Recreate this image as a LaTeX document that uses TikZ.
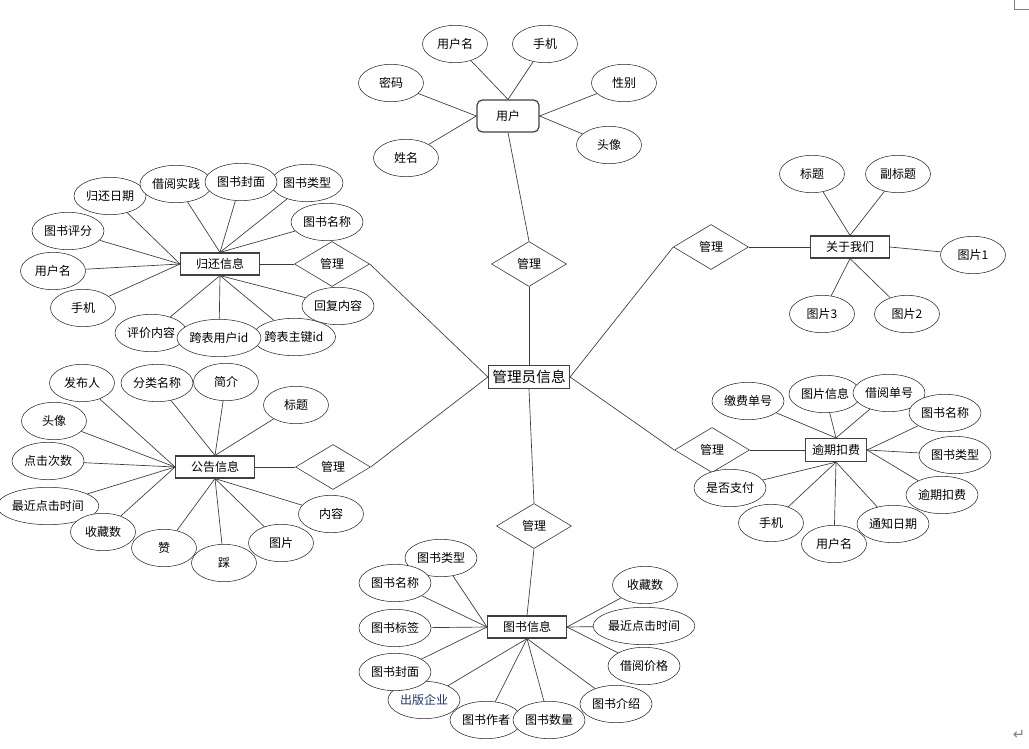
\documentclass[tikz,border=0pt]{standalone}
\usepackage{fontspec}
\setmainfont{Noto Sans CJK SC}
\newfontfamily\markfont{DejaVu Sans}
\usepackage{xcolor}
\usepackage{tikz}
\usetikzlibrary{shapes.geometric}
\definecolor{edge}{HTML}{3A3A3A}
\definecolor{pub}{HTML}{203864}

\begin{document}
\begin{tikzpicture}[x=0.75pt, y=-0.75pt,
  attr/.style={ellipse, draw=black!85, fill=white, minimum width=48.75pt, minimum height=28pt, inner sep=0pt, font=\fontsize{9}{10}\selectfont},
  wattr/.style={attr, minimum width=54pt},
  xattr/.style={attr, minimum width=72.75pt},
  entity/.style={rectangle, draw=black!75, fill=white, line width=0.9pt, minimum width=59pt, minimum height=16.5pt, inner sep=1pt, font=\fontsize{9}{10}\selectfont},
  rel/.style={diamond, draw=black!85, fill=white, minimum width=56.25pt, minimum height=33.75pt, inner sep=0pt, font=\fontsize{9}{10}\selectfont},
  conn/.style={edge, line width=0.5pt}
]
\useasboundingbox (0,0) rectangle (1029,749);

% ---- User ----
\node[entity, rounded corners=4pt, minimum width=46.5pt, minimum height=24pt] (user) at (508,116) {用户};
\node[attr] (uName) at (455,44)  {用户名};
\node[attr] (uPhone) at (545,44) {手机};
\node[attr] (uPwd) at (391,83)   {密码};
\node[attr] (uSex) at (624,83)   {性别};
\node[attr] (uReal) at (406,158) {姓名};
\node[attr] (uHead) at (609,145) {头像};

\draw[conn] (uName) -- (user.north);
\draw[conn] (uPhone) -- (user.north);
\draw[conn] (uPwd) -- (user.west);
\draw[conn] (uReal) -- (user.west);
\draw[conn] (uSex) -- (user.east);
\draw[conn] (uHead) -- (user.east);

% ---- Admin ----
\node[rel] (mUser) at (529,264) {管理};
\node[entity, minimum width=60.75pt, minimum height=17.25pt, font=\fontsize{11}{13}\selectfont] (admin) at (529,377) {管理员信息};

\draw[conn] (user.south) -- (mUser.north);
\draw[conn] (mUser.south) -- (admin.north);

% ---- Return ----
\node[entity] (ret) at (220,264) {归还信息};
\node[rel] (mRet) at (332,264) {管理};
\node[wattr] (rDate) at (110,196)  {归还日期};
\node[wattr] (rBorrow) at (176,184) {借阅实践};
\node[wattr] (rType) at (307,183)  {图书类型};
\node[wattr] (rCover) at (241,182) {图书封面};
\node[wattr] (rTitle) at (327,222) {图书名称};
\node[wattr] (rScore) at (68,231)  {图书评分};
\node[attr] (rUser) at (53,271)    {用户名};
\node[attr] (rPhone) at (83,308)   {手机};
\node[wattr] (rEval) at (151,333)  {评价内容};
\node[attr, minimum width=60pt] (rKey) at (294,337)  {跨表主键id};
\node[attr, minimum width=63pt] (rUid) at (219,338)  {跨表用户id};
\node[wattr] (rReply) at (338,306) {回复内容};

\draw[conn] (rDate) -- (ret.west);
\draw[conn] (rScore) -- (ret.west);
\draw[conn] (rUser) -- (ret.west);
\draw[conn] (rPhone) -- (ret.west);
\draw[conn] (rBorrow) -- (ret.north);
\draw[conn] (rCover) -- (ret.north);
\draw[conn] (rType) -- (ret.north);
\draw[conn] (rTitle) -- (ret.north);
\draw[conn] (rEval) -- (ret.south);
\draw[conn] (rUid) -- (ret.south);
\draw[conn] (rKey) -- (ret.south);
\draw[conn] (rReply) -- (ret.south);
\draw[conn] (admin.west) -- (mRet.east);
\draw[conn] (mRet.west) -- (ret.east);

% ---- Notice ----
\node[entity] (note) at (215,467) {公告信息};
\node[rel] (mNote) at (333,467) {管理};
\node[attr] (nAuthor) at (82,383)  {发布人};
\node[wattr] (nCat) at (157,383)   {分类名称};
\node[attr] (nIntro) at (226,382)  {简介};
\node[attr] (nTitle) at (296,405)  {标题};
\node[attr] (nHead) at (54,421)    {头像};
\node[wattr] (nClick) at (48,461)  {点击次数};
\node[xattr] (nLast) at (48,506)   {最近点击时间};
\node[attr] (nFav) at (103,532)    {收藏数};
\node[attr] (nUp) at (164,548)     {赞};
\node[attr] (nDown) at (224,563)   {踩};
\node[attr] (nPic) at (281,543)    {图片};
\node[attr] (nText) at (331,514)   {内容};

\draw[conn] (nAuthor) -- (note.west);
\draw[conn] (nHead) -- (note.west);
\draw[conn] (nClick) -- (note.west);
\draw[conn] (nLast) -- (note.west);
\draw[conn] (nFav) -- (note.west);
\draw[conn] (nCat) -- (note.north);
\draw[conn] (nIntro) -- (note.north);
\draw[conn] (nTitle) -- (note.north);
\draw[conn] (nUp) -- (note.south);
\draw[conn] (nDown) -- (note.south);
\draw[conn] (nPic) -- (note.south);
\draw[conn] (nText) -- (note.south);
\draw[conn] (admin.west) -- (mNote.east);
\draw[conn] (mNote.west) -- (note.east);

% ---- Book ----
\node[entity] (book) at (527,627) {图书信息};
\node[rel] (mBook) at (534,526) {管理};
\node[wattr] (bType) at (441,558)  {图书类型};
\node[wattr] (bName) at (395,583)  {图书名称};
\node[wattr] (bTag) at (395,628)   {图书标签};
\node[wattr, text=pub] (bPub) at (424,700) {出版企业};
\node[wattr] (bCover) at (395,672) {图书封面};
\node[wattr] (bAuthor) at (486,720) {图书作者};
\node[wattr] (bCount) at (549,720) {图书数量};
\node[wattr] (bIntro) at (616,704) {图书介绍};
\node[attr] (bFav) at (645,585)    {收藏数};
\node[xattr] (bLast) at (644,626)  {最近点击时间};
\node[wattr] (bPrice) at (644,666) {借阅价格};

\draw[conn] (bType) -- (book.west);
\draw[conn] (bName) -- (book.west);
\draw[conn] (bTag) -- (book.west);
\draw[conn] (bCover) -- (book.west);
\draw[conn] (bPub) -- (book.south);
\draw[conn] (bAuthor) -- (book.south);
\draw[conn] (bCount) -- (book.south);
\draw[conn] (bIntro) -- (book.south);
\draw[conn] (bFav) -- (book.east);
\draw[conn] (bLast) -- (book.east);
\draw[conn] (bPrice) -- (book.east);
\draw[conn] (admin.south) -- (mBook.north);
\draw[conn] (mBook.south) -- (book.north);

% ---- Overdue ----
\node[entity, minimum width=45.75pt, minimum height=17.25pt] (over) at (836,450) {逾期扣费};
\node[rel] (mOver) at (712,450) {管理};
\node[wattr] (oBill) at (748,401)  {缴费单号};
\node[wattr] (oPic) at (825,394)   {图片信息};
\node[wattr] (oLoan) at (889,393)  {借阅单号};
\node[wattr] (oName) at (945,413)  {图书名称};
\node[wattr] (oType) at (955,455)  {图书类型};
\node[wattr] (oFee) at (942,495)   {逾期扣费};
\node[wattr] (oDate) at (893,524)  {通知日期};
\node[attr] (oUser) at (834,544)   {用户名};
\node[attr] (oPhone) at (771,523)  {手机};
\node[wattr] (oPaid) at (730,488)  {是否支付};

\draw[conn] (oBill) -- (over.north);
\draw[conn] (oPic) -- (over.north);
\draw[conn] (oLoan) -- (over.north);
\draw[conn] (oName) -- (over.east);
\draw[conn] (oType) -- (over.east);
\draw[conn] (oFee) -- (over.east);
\draw[conn] (oDate) -- (over.south);
\draw[conn] (oUser) -- (over.south);
\draw[conn] (oPhone) -- (over.south);
\draw[conn] (oPaid) -- (over.south);
\draw[conn] (admin.east) -- (mOver.west);
\draw[conn] (mOver.east) -- (over.west);

% ---- About ----
\node[entity] (about) at (850,247) {关于我们};
\node[rel] (mAbout) at (711,247) {管理};
\node[attr] (aTitle) at (812,174) {标题};
\node[attr] (aSub) at (898,174)   {副标题};
\node[attr] (aPic1) at (973,255)  {图片1};
\node[attr] (aPic3) at (822,314)  {图片3};
\node[attr] (aPic2) at (907,314)  {图片2};

\draw[conn] (aTitle) -- (about.north);
\draw[conn] (aSub) -- (about.north);
\draw[conn] (aPic1) -- (about.east);
\draw[conn] (aPic3) -- (about.south);
\draw[conn] (aPic2) -- (about.south);
\draw[conn] (admin.east) -- (mAbout.west);
\draw[conn] (mAbout.east) -- (about.west);

% page marks
\draw[gray, line width=0.6pt] (1014,0) -- (1014,9) -- (1029,9);
\node[text=gray, font=\markfont\fontsize{11}{12}\selectfont] (retMark) at (1019,735) {↵};

\end{tikzpicture}
\end{document}
